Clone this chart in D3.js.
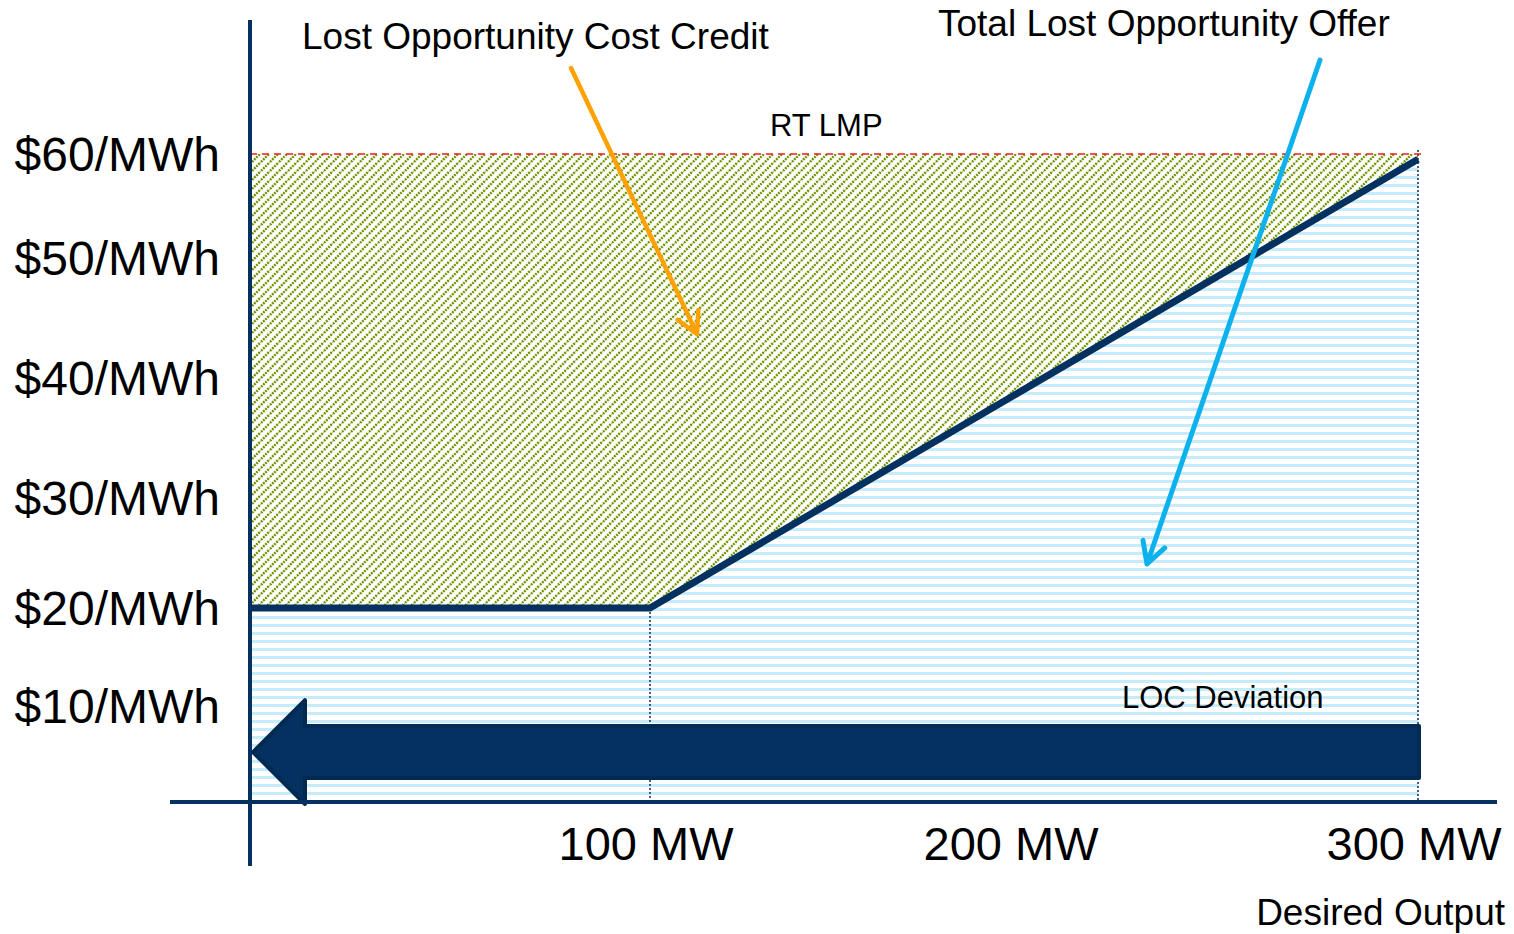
<!DOCTYPE html>
<html><head><meta charset="utf-8">
<script src="https://cdn.jsdelivr.net/npm/d3@7"></script>
<style>
body{margin:0;background:#fff}
svg{display:block}
text{font-family:"Liberation Sans",Arial,sans-serif;fill:#000}
</style>
</head><body>
<svg id="c" width="1514" height="934"></svg>
<script>
// ---- data ----
const priceTicks = [60, 50, 40, 30, 20, 10];
const priceTickLabels = ["$60/MWh", "$50/MWh", "$40/MWh", "$30/MWh", "$20/MWh", "$10/MWh"];
const outputTicks = [100, 200, 300];
const outputTickLabels = ["100 MW", "200 MW", "300 MW"];
const offerMW = [0, 100, 300];
const offerPrice = [20, 20, 59.5];
const rtLmp = 60;
const locFromMW = 300, locToMW = 0, locPrice = 5.2;
const titleCredit = "Lost Opportunity Cost Credit";
const titleOffer = "Total Lost Opportunity Offer";

// ---- layout ----
const svg = d3.select("#c");
const navy = "#04315f";
const x = d3.scaleLinear().domain([0, 100, 200, 300]).range([250, 650, 1015, 1418]);
const y = d3.scaleLinear().domain([0, 10, 20, 30, 40, 50, 60]).range([802, 706, 608, 498, 378, 258, 154]);

const offer = offerMW.map((m, i) => ({m, p: offerPrice[i]}));

// patterns
const defs = svg.append("defs");
const hp = defs.append("pattern").attr("id", "stripes").attr("patternUnits", "userSpaceOnUse")
  .attr("width", 10).attr("height", 8);
hp.append("rect").attr("x", 0).attr("y", 0).attr("width", 10).attr("height", 3).attr("fill", "#c6ebfb");

const gp = defs.append("pattern").attr("id", "hatch").attr("patternUnits", "userSpaceOnUse")
  .attr("width", 9).attr("height", 9);
gp.append("path").attr("d", "M-2,2 L2,-2 M0,9 L9,0 M7,11 L11,7")
  .attr("stroke", "#6f9400").attr("stroke-width", 2.4).attr("stroke-dasharray", "2,1");

// blue area under the offer curve
const areaBelow = d3.area().x(d => x(d.m)).y0(y(0)).y1(d => y(d.p));
svg.append("path").datum(offer).attr("d", areaBelow).attr("fill", "url(#stripes)");
// green area between offer curve and RT LMP
const areaAbove = d3.area().x(d => x(d.m)).y0(d => y(d.p)).y1(y(rtLmp));
svg.append("path").datum(offer).attr("d", areaAbove).attr("fill", "url(#hatch)");

// vertical dotted guides
svg.append("line").attr("x1", x(100)).attr("x2", x(100)).attr("y1", y(20)).attr("y2", y(0))
  .attr("stroke", navy).attr("stroke-width", 1.5).attr("stroke-dasharray", "2,2");
svg.append("line").attr("x1", x(300)).attr("x2", x(300)).attr("y1", y(rtLmp) - 4).attr("y2", y(0))
  .attr("stroke", navy).attr("stroke-width", 1.5).attr("stroke-dasharray", "2,2");

// RT LMP line
svg.append("line").attr("x1", x(0)).attr("x2", x(300) + 3).attr("y1", y(rtLmp)).attr("y2", y(rtLmp))
  .attr("stroke", "#f01c1c").attr("stroke-width", 1.5).attr("stroke-dasharray", "7,5");
svg.append("text").attr("x", 770).attr("y", 136).attr("font-size", 31).text("RT LMP");

// LOC deviation arrow
const xs = x(locFromMW) + 1, xt = x(locToMW) + 3, yc = y(locPrice);
const headX = xt + 52, sh = 26, hh = 52;
svg.append("path")
  .attr("d", `M${xt},${yc} L${headX},${yc - hh} L${headX},${yc - sh} L${xs},${yc - sh} L${xs},${yc + sh} L${headX},${yc + sh} L${headX},${yc + hh} Z`)
  .attr("fill", "#04315f").attr("stroke", "#012a52").attr("stroke-width", 4).attr("stroke-linejoin", "round");
svg.append("text").attr("x", 1122).attr("y", 708).attr("font-size", 31).text("LOC Deviation");

// offer curve
svg.append("path").datum(offer)
  .attr("d", d3.line().x(d => x(d.m)).y(d => y(d.p)))
  .attr("fill", "none").attr("stroke", navy).attr("stroke-width", 7);

// axes
svg.append("line").attr("x1", 250).attr("x2", 250).attr("y1", 20).attr("y2", 866)
  .attr("stroke", navy).attr("stroke-width", 4);
svg.append("line").attr("x1", 170).attr("x2", 1497).attr("y1", y(0)).attr("y2", y(0))
  .attr("stroke", navy).attr("stroke-width", 4);

// tick labels
svg.append("g").selectAll("text").data(priceTicks).join("text")
  .attr("x", 220).attr("y", d => y(d) + 17).attr("text-anchor", "end")
  .attr("font-size", 48).text((d, i) => priceTickLabels[i]);
svg.append("g").selectAll("text").data(outputTicks).join("text")
  .attr("x", d => x(d) - 4).attr("y", 860).attr("text-anchor", "middle")
  .attr("font-size", 47).text((d, i) => outputTickLabels[i]);
svg.append("text").attr("x", 1505).attr("y", 925).attr("text-anchor", "end")
  .attr("font-size", 37).text("Desired Output");

// annotations
svg.append("text").attr("x", 302).attr("y", 49).attr("font-size", 37).text(titleCredit);
svg.append("text").attr("x", 938).attr("y", 36).attr("font-size", 37).text(titleOffer);

function arrow(x1, y1, x2, y2, color, w) {
  const a = Math.atan2(y2 - y1, x2 - x1), L = 24, s = 0.5;
  const p1 = [x2 - L * Math.cos(a - s), y2 - L * Math.sin(a - s)];
  const p2 = [x2 - L * Math.cos(a + s), y2 - L * Math.sin(a + s)];
  svg.append("path").attr("d", `M${x1},${y1} L${x2},${y2} M${p1[0]},${p1[1]} L${x2},${y2} L${p2[0]},${p2[1]}`)
    .attr("fill", "none").attr("stroke", color).attr("stroke-width", w)
    .attr("stroke-linecap", "round").attr("stroke-linejoin", "round");
}
arrow(571, 68, 697, 334, "#ffa100", 4.5);
arrow(1320, 60, 1147, 564, "#0cb1ee", 5);
</script>
</body></html>
